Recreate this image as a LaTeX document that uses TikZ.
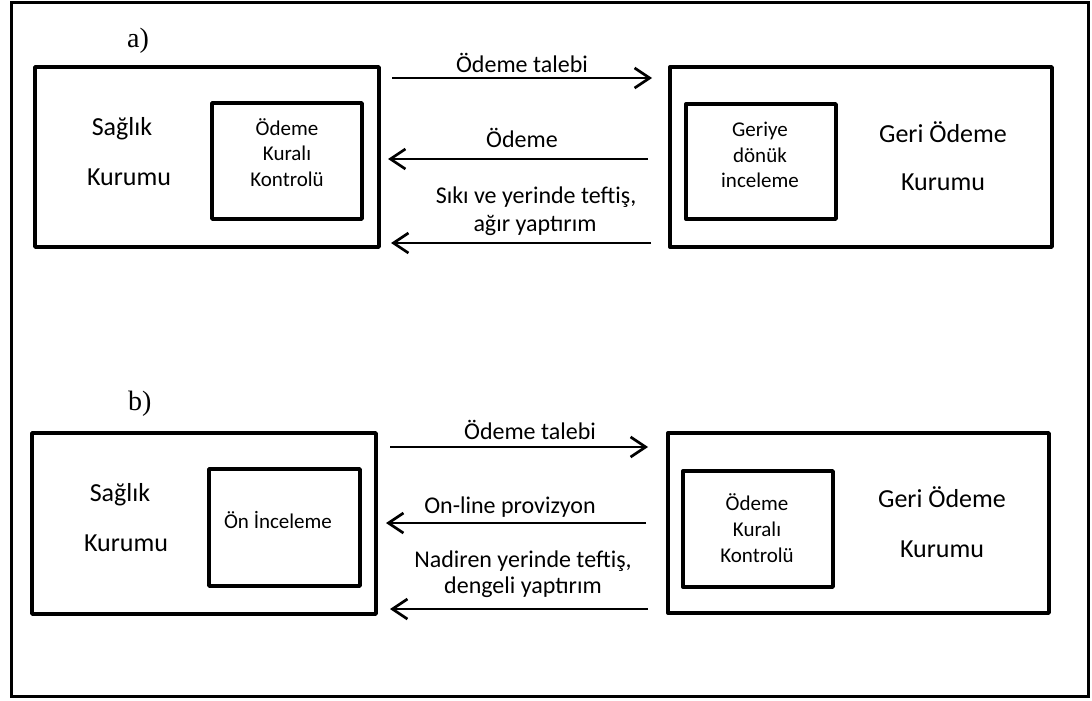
\documentclass[tikz,border=0pt]{standalone}
\usepackage{fontspec}
\setmainfont{Carlito}
\newfontfamily\labelfont{Liberation Serif}
\usetikzlibrary{arrows.meta}
\begin{document}
\begin{tikzpicture}[x=1pt,y=-1pt,
  frame/.style={draw, line width=3pt},
  box/.style={draw, line width=3.4pt, inner sep=0pt, outer sep=0pt, rectangle, line join=round},
  arr/.style={line width=2.7pt, -{Straight Barb[length=15pt,width=20pt,line join=miter]}},
  big/.style={anchor=base, inner sep=0pt, font=\fontsize{26}{31}\selectfont},
  mid/.style={anchor=base, inner sep=0pt, font=\fontsize{24}{29}\selectfont},
  small/.style={anchor=base, inner sep=0pt, font=\fontsize{21}{25}\selectfont},
  part/.style={anchor=base west, inner sep=0pt, font=\labelfont\fontsize{28}{32}\selectfont}]
\useasboundingbox (0,0) rectangle (1092,701);
\fill[white] (0,0) rectangle (1092,701);
\draw[frame] (11,3) rectangle (1088,696);

% ---------- a) ----------
\node[part] (la) at (127,48) {a)};
\node[box, minimum width=344pt, minimum height=180pt] (sA) at (207,157) {};
\node[box, minimum width=150pt, minimum height=116pt] (sAin) at (287,161) {};
\node[box, minimum width=382pt, minimum height=180pt] (gA) at (861,157) {};
\node[box, minimum width=150pt, minimum height=115pt] (gAin) at (761,161.5) {};

\node[big] (sA1) at (122,135) {Sağlık};
\node[big] (sA2) at (129,185) {Kurumu};
\node[small] (sAin1) at (287,135) {Ödeme};
\node[small] (sAin2) at (287,160.5) {Kuralı};
\node[small] (sAin3) at (287,186) {Kontrolü};

\node[big] (gA1) at (943,142) {Geri Ödeme};
\node[big] (gA2) at (943,190) {Kurumu};
\node[small] (gAin1) at (760,136) {Geriye};
\node[small] (gAin2) at (760,162) {dönük};
\node[small] (gAin3) at (760,187) {inceleme};

\coordinate (a1s) at (392,78);  \coordinate (a1e) at (652,78);
\coordinate (a2s) at (648,159); \coordinate (a2e) at (388,159);
\coordinate (a3s) at (651,243); \coordinate (a3e) at (391,243);
\draw[arr] (a1s) -- (a1e);
\draw[arr] (a2s) -- (a2e);
\draw[arr] (a3s) -- (a3e);
\node[mid] (ta1) at (522,72) {Ödeme talebi};
\node[mid] (ta2) at (522,147) {Ödeme};
\node[mid] (ta3) at (536,203) {Sıkı ve yerinde teftiş,};
\node[mid] (ta4) at (535,231) {ağır yaptırım};

% ---------- b) ----------
\node[part] (lb) at (128,410) {b)};
\node[box, minimum width=344pt, minimum height=181pt] (sB) at (204,523.5) {};
\node[box, minimum width=151pt, minimum height=117pt] (sBin) at (284.5,527.5) {};
\node[box, minimum width=381pt, minimum height=180pt] (gB) at (858.5,523) {};
\node[box, minimum width=150pt, minimum height=116pt] (gBin) at (758,529) {};

\node[big] (sB1) at (120,501) {Sağlık};
\node[big] (sB2) at (126,551) {Kurumu};
\node[small] (sBin1) at (278,528) {Ön İnceleme};

\node[big] (gB1) at (942,507) {Geri Ödeme};
\node[big] (gB2) at (942,557) {Kurumu};
\node[small] (gBin1) at (757,510) {Ödeme};
\node[small] (gBin2) at (757,536) {Kuralı};
\node[small] (gBin3) at (757,562) {Kontrolü};

\coordinate (b1s) at (390,447); \coordinate (b1e) at (648,447);
\coordinate (b2s) at (646,523); \coordinate (b2e) at (386,523);
\coordinate (b3s) at (648,609); \coordinate (b3e) at (390,609);
\draw[arr] (b1s) -- (b1e);
\draw[arr] (b2s) -- (b2e);
\draw[arr] (b3s) -- (b3e);
\node[mid] (tb1) at (530,439) {Ödeme talebi};
\node[mid] (tb2) at (510,513) {On-line provizyon};
\node[mid] (tb3) at (523,567) {Nadiren yerinde teftiş,};
\node[mid] (tb4) at (523,593) {dengeli yaptırım};
\end{tikzpicture}
\end{document}
